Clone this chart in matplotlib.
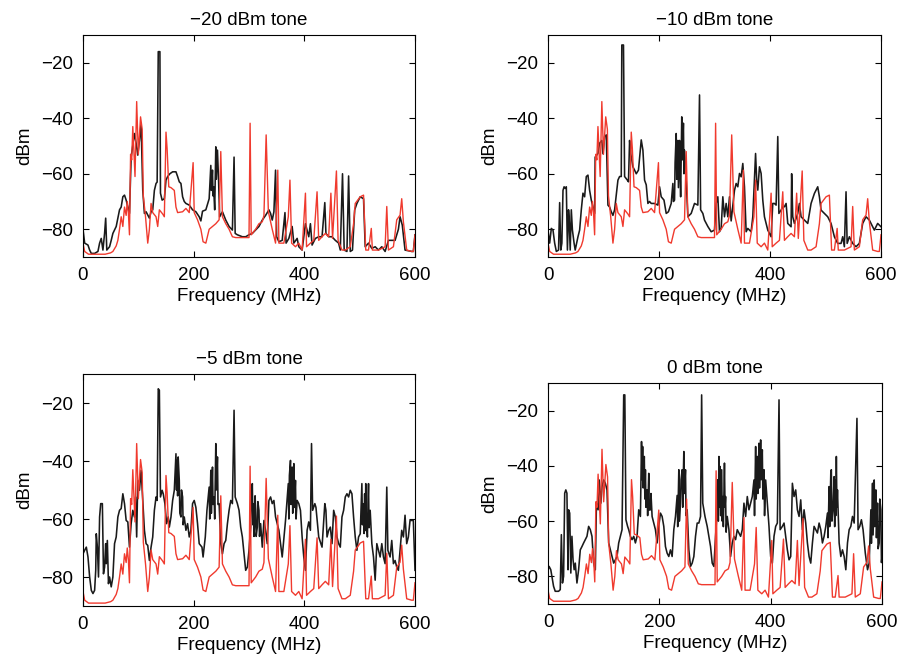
import matplotlib
matplotlib.use("Agg")
import matplotlib.pyplot as plt
import numpy as np

plt.rcParams['font.family'] = ['Liberation Sans', 'DejaVu Sans']

TITLES = ["\u221220 dBm tone", "\u221210 dBm tone", "\u22125 dBm tone", "0 dBm tone"]
X_TICKS = [0, 200, 400, 600]
Y_TICKS = [-20, -40, -60, -80]
X_LABEL = "Frequency (MHz)"
Y_LABEL = "dBm"

# reference (no tone) spectrum, shown in red in every panel: (MHz, dBm)
RED_TRACE = [(0,-85),(3,-88),(10,-89),(25,-89),(40,-89),(50,-88.5),(54,-88),(60,-86),(63,-84),(66,-80),
    (69,-75.5),(72,-79),(75,-72),(78,-75),(80,-70),(82,-74),(84,-82),(86,-53),(88,-55),(90,-43),(94,-61),
    (97,-34),(100,-53),(104,-39.5),(107,-44),(109,-68),(113,-75.5),(117,-85),(120,-80),(123,-70.7),
    (126,-74),(132,-75.5),(135,-79),(138,-73),(144,-74.5),(147,-75.5),(150,-45),(152,-51),(155,-64.7),
    (159,-65),(165,-66),(168,-72),(171,-74),(180,-73.7),(186,-72.5),(192,-74),(199,-56),(201,-74),
    (207,-76.6),(213,-80),(217,-84.5),(222,-85),(228,-80),(234,-79),(240,-78),(246,-76.6),(249,-52),
    (252,-75.5),(258,-78),(264,-80),(270,-82.7),(276,-83),(288,-83),(300,-83),(302,-41.8),(304,-82),
    (312,-80),(318,-78),(324,-77.3),(327,-75),(331,-46),(335,-73.7),(342,-80),(348,-85),(352,-58.7),
    (354,-85),(363,-85),(371,-75.5),(374,-62.3),(377,-85),(384,-86.3),(390,-85),(396,-87.5),(402,-67),
    (404,-86.3),(411,-85),(417,-84),(423,-66.5),(426,-84),(432,-82.7),(438,-81.5),(444,-82.7),(448,-67),
    (451,-83.3),(458,-59),(461,-84),(468,-87.5),(474,-87.5),(483,-86.3),(489,-78),(492,-70.7),(501,-68.3),
    (507,-67.7),(511,-87.5),(516,-87.5),(521,-79.7),(523,-87.5),(534,-87.5),(546,-86.3),(549,-71.8),
    (552,-87.5),(561,-86.3),(567,-76.6),(573,-74.9),(576,-69),(579,-77.3),(585,-87.5),(594,-88),
    (597,-88),(600,-82)]

# spectra with the tone applied, shown in black: (MHz, dBm)
BLACK_M20 = [(0,-80),(3,-85),(9,-85.7),(12,-87.5),(15,-88.7),(21,-88.7),(27,-88),(30,-85),(33,-83.3),
    (36,-87.5),(39,-81.5),(41,-76),(43,-87.5),(48,-86.3),(51,-84),(54,-81.5),(60,-79),(66,-73),(69,-72),
    (72,-68.3),(75,-67.7),(78,-69.5),(81,-72),(84,-74.3),(87,-54),(93,-45.5),(96,-49),(99,-53.3),(102,-48),
    (105,-42),(108,-66),(111,-74.3),(114,-73.7),(120,-76),(123,-73.7),(126,-73),(129,-66),(132,-63.5),
    (134,-63),(136,-16),(139,-16),(140,-67),(143,-69.5),(147,-69),(150,-62.3),(153,-61),(157,-60),
    (162,-59.3),(168,-59.3),(171,-61),(174,-62.9),(177,-63.5),(180,-68.3),(183,-70),(186,-70.7),
    (192,-71.3),(198,-73),(204,-73.7),(210,-75.5),(213,-77),(216,-73.5),(222,-73),(228,-69),(231,-57),
    (232,-66),(234,-58.7),(235,-68),(236,-64.7),(238,-73),(240,-50.3),(241,-62),(243,-51.5),(245,-62.3),
    (247,-75.5),(252,-73.7),
    (258,-76.7),(264,-79),(270,-80.3),(273,-54),(275,-81.5),(279,-82),(288,-82.7),(294,-82.7),(300,-82),
    (306,-81.5),(318,-79),(324,-76.7),(330,-75),(336,-73),(339,-74.3),(342,-76.7),(345,-73.7),(348,-58.7),
    (350,-82.7),(354,-84.5),(360,-84),(365,-74),(367,-85),(372,-83.3),(378,-79),(381,-85),(387,-83.3),
    (390,-86.3),(396,-87.5),(402,-78),(405,-80.3),(408,-82.7),(411,-78),(414,-85.7),(420,-83.3),
    (426,-82.7),(432,-82.7),(437,-70.4),(439,-81.5),(444,-82.7),(450,-82.7),(456,-84),(462,-85),
    (465,-87.5),(469,-60),(472,-87.5),(477,-88),(480,-60.8),(483,-88),(487,-87.5),(491,-73),(495,-70.7),
    (501,-68.3),(507,-69),(510,-86.3),(516,-85),(522,-86.9),(528,-86.3),(534,-87.5),(540,-86.3),
    (546,-88),(552,-84),(564,-84),(570,-80),(573,-75.5),(577,-78.5),(582,-87.5),(594,-88),(597,-88),(600,-82)]

BLACK_M10 = [(0,-80.3),(3,-85),(6,-79.7),(9,-80.3),(12,-85),(15,-88),(19,-87.5),(21,-70.4),(23,-87.5),
    (25,-85),(27,-66),(29,-64.7),(31,-65.3),(33,-64.7),(35,-87.5),(37,-73),(38,-75.5),(40,-87.5),(42,-73),
    (44,-80.3),(47,-85),(49,-87.5),(54,-82.7),(57,-80.3),(60,-73),(63,-67),(66,-68.3),(69,-61),(72,-60.5),
    (75,-66),(78,-69.5),(81,-72),(84,-74.3),(85,-54),(90,-52.7),(93,-49),(97,-48),(99,-52.8),(102,-46.6),
    (105,-46),(108,-71.3),(111,-72),(114,-73.7),(117,-75),(120,-73),(123,-67.7),(126,-62.3),(129,-61),
    (132,-61),(133,-13.6),(136,-13.6),(138,-61),(143,-62.3),(145,-62.9),(147,-48),(149,-52.7),(153,-57.5),
    (156,-58.7),(159,-60),(163,-58.7),(166,-52),(168,-47.8),(171,-51.5),(174,-62.3),(177,-64),(180,-70.7),
    (183,-70),(186,-70.7),(192,-70.7),(198,-71.3),(201,-64.7),(204,-68.3),(209,-69.5),(213,-74.3),
    (217,-73.7),(222,-70.7),(225,-63.5),(226,-70),(228,-69.5),(229,-56),(231,-45.5),(232,-62),(234,-48),
    (235,-65),(237,-48),(238,-60),(239,-68.3),(240,-55),(241,-39.5),(242,-55),(244,-41.8),(245,-60),
    (246,-51.5),(249,-62.3),(252,-75.5),(258,-74.3),(264,-70.7),(270,-71.3),
    (273,-31.6),(275,-73),(279,-74.3),(282,-76.7),(288,-79),(294,-80.9),(300,-80.3),(303,-70.7),
    (306,-68.3),(309,-80.9),(312,-79.7),(315,-68.3),(318,-75.5),(321,-70.7),(324,-75.5),(327,-68.3),
    (330,-77),(336,-66),(339,-63.5),(342,-64.7),(345,-59.9),(348,-61.1),(351,-56.3),(354,-64.7),
    (357,-80.9),(360,-79.7),(366,-80.9),(369,-75.5),(372,-62.3),(374,-52.7),(376,-62.3),(378,-65.9),
    (381,-57.5),(384,-59.9),(387,-69.5),(390,-75.5),(396,-80.3),(402,-82.7),(405,-70.7),(408,-70.7),
    (411,-71.3),(414,-46.6),(416,-74.3),(420,-73.1),(423,-71.9),(426,-71.9),(429,-70.7),(432,-77.9),
    (438,-79.1),(439,-60),(441,-75.5),(444,-77.9),(450,-74.3),(453,-70.7),(456,-75.5),(462,-76.7),
    (468,-77.9),(474,-70.7),(480,-67.1),(486,-64.7),(489,-68.3),(492,-73.1),(498,-74.3),(504,-75.5),
    (510,-77.9),(516,-82.7),(522,-85.1),(528,-85.1),(531,-82.7),(534,-86.3),(537,-66.5),(539,-85.1),
    (543,-82.7),(549,-85.1),(555,-86.3),(561,-85.1),(567,-77.9),(573,-75.5),(579,-76.7),(585,-79.1),
    (588,-80.3),(594,-77.9),(600,-79.1)]

BLACK_M5 = [(0,-72),(3,-70.8),(6,-69.7),(9,-73.1),(12,-80),(15,-84.6),(18,-85.7),(21,-84.6),(23,-77.7),
    (24,-65.1),(26,-69.7),(28,-80),(30,-59.3),(32,-54.7),(35,-54.7),(37,-78.9),(39,-76.6),(41,-68.5),
    (42,-75.4),(44,-67.4),(46,-82.3),(48,-80),(51,-83.4),(54,-80),(57,-68.5),(60,-66.2),(63,-59.3),
    (66,-57),(69,-56.4),(72,-51.3),(75,-54.7),(78,-60.5),(81,-61),(84,-69.7),(87,-61.6),(90,-57),
    (93,-59.3),(95,-52.4),(97,-66.2),(99,-46.7),(102,-50.1),(105,-43.2),(108,-53.6),(111,-63.9),
    (114,-68.5),(117,-69.1),(120,-74.3),(123,-69.7),(126,-66.2),(129,-57),(132,-52.4),(134,-53.6),
    (136,-15.1),(138,-15.6),(140,-52.4),(143,-50.1),(145,-51.3),(148,-54.7),(151,-61.6),(154,-59.3),
    (156,-62.8),(159,-59.3),(162,-53.6),(165,-50.1),(168,-37.5),(169,-50),(170,-39.8),(171,-52),
    (172,-38.6),(174,-46.7),(175,-58),(177,-59.3),(178,-50),(180,-52.4),(181,-62),(183,-59.3),(186,-63.9),
    (189,-61.6),(192,-66.2),(195,-63.9),(198,-54.7),
    (201,-53.6),(204,-56),(207,-61.6),(210,-68.5),(215,-69.7),(217,-73.1),(221,-66.2),(224,-57),
    (228,-49),(229,-60),(231,-43.2),(232,-58),(234,-42.1),(235,-55),(237,-52.4),(238,-60),(240,-34),
    (241,-50),(243,-38.6),(244,-55),(246,-54.7),(249,-68.5),(252,-72),
    (255,-68.5),(258,-67.4),(261,-61.6),(264,-57),(267,-53.6),(270,-54.7),(273,-22.5),(275,-52.4),
    (279,-54.7),(282,-57),(285,-62.8),(288,-66.2),(291,-72),(294,-77.7),(297,-76.6),(300,-70.8),
    (303,-62.8),(304,-55),(306,-47.8),(307,-62),(308,-54.7),(309,-66),(310,-61.6),(311,-52),(312,-57),
    (313,-66),(315,-62.8),(316,-54),(318,-57),(319,-66),(321,-61.6),
    (324,-69.7),(327,-60.5),(330,-63.9),(333,-68.5),(336,-53.6),(339,-52.4),(342,-54.7),(345,-53.6),
    (348,-59.3),(354,-63.9),(357,-68.5),(360,-73.1),(366,-60.5),(371,-47.8),(372,-60),(373,-45),
    (375,-39.8),(376,-55),(377,-44.4),(378,-42.1),(379,-58),(381,-40.9),(382,-56),(384,-46.7),(385,-60),
    (387,-53.6),(390,-54.7),(393,-57),(396,-66.2),(399,-73.1),
    (402,-77.7),(405,-63.9),(408,-61),(411,-63.9),(413,-34),(415,-57),(419,-54.7),(421,-56),(426,-66.2),
    (432,-69.7),(437,-54.7),(439,-57),(441,-66.2),(444,-63.9),(447,-62.8),(450,-68.5),(453,-57),
    (456,-59.3),(459,-66.2),(462,-68.5),(465,-69.7),(468,-59.3),(471,-57),(474,-52.4),(477,-51.3),
    (480,-52.4),(483,-50.1),(486,-51.3),(489,-59.3),(492,-66.2),(495,-70.8),(498,-66.2),(501,-65.1),
    (504,-47.8),(505,-62),(507,-54.7),(508,-65),(509,-51.3),(510,-64),(511,-47.8),(512,-60),(514,-66.2),
    (515,-55),(516,-47.8),(517,-63),(519,-57),(522,-68.5),
    (525,-73.1),(528,-81.1),(531,-68.5),(534,-70.8),(537,-73.1),(540,-68.5),(543,-73.1),(546,-75.4),
    (549,-49),(551,-70.8),(555,-73.1),(558,-67.4),(561,-75.4),(564,-74.3),(567,-76.6),(570,-77.7),
    (573,-70.8),(576,-63.9),(579,-66.2),(582,-58.7),(585,-68.5),(588,-66.2),(591,-60.5),(597,-60.5),
    (600,-77.7)]

BLACK_0 = [(0,-77.6),(2,-76.4),(5,-77.6),(7,-80),(10,-83.6),(13,-85.4),(19,-85.4),(22,-84.8),(24,-64.9),
    (26,-82.4),(28,-80),(30,-49.9),(32,-48.7),(34,-49.9),(36,-77.6),(37,-55.9),(39,-57.1),(41,-78.8),
    (43,-65.5),(45,-74),(47,-77.6),(49,-75.2),(52,-82.4),(55,-77.6),(58,-70.4),(61,-69.2),(64,-67.9),
    (67,-66.7),(70,-65.5),(73,-61.9),(76,-63.1),(79,-65.5),(82,-75.2),(85,-77.6),(87,-53.5),(90,-55.9),
    (92,-45.1),(95,-53.5),(97,-47.5),(100,-45.1),(103,-46.3),(106,-48.7),(109,-67.9),(112,-70.4),
    (115,-72.8),(118,-75.2),(121,-74),(124,-72.8),(127,-67.9),(130,-65.5),(133,-63.1),(136,-14.3),
    (138,-14.3),(140,-59.5),(143,-61.9),(145,-63.1),(148,-65.5),(151,-66.7),(154,-65.5),(157,-67.9),
    (160,-65.5),(163,-55.9),(166,-58.3),(168,-31.2),(169,-45),(170,-33),(171,-48),(173,-36.6),(174,-52),
    (175,-41.4),(176,-55),(178,-48.7),(179,-58),(181,-42.7),(182,-56),(184,-55.9),(185,-50),(187,-58.3),
    (190,-60.7),(193,-63.1),(196,-67.9),(199,-61.9),(202,-57.1),
    (205,-58.3),(208,-61.9),(211,-69.2),(214,-71.6),(217,-72.8),(220,-70.4),(223,-72.8),(226,-63.1),
    (229,-58.3),(232,-50.7),(233,-62),(235,-41.4),(236,-60),(238,-53.5),(239,-45),(241,-41.4),(242,-55),
    (244,-34.8),(245,-50),(247,-41.4),(248,-58),(250,-55.9),
    (253,-70.4),(256,-76.4),(259,-75.2),(262,-72.8),(265,-65.5),(268,-60.7),(271,-60.7),(274,-58.3),
    (276,-14.3),(278,-53.5),(282,-58.3),(286,-61.9),(289,-65.5),(292,-69.2),(295,-75.2),(298,-76.4),
    (301,-65.5),(304,-55.9),(305,-45),(306,-60),(307,-36.6),(308,-55),(309,-40.2),(310,-58),(312,-41.4),
    (313,-60),(314,-51.1),(315,-62),(317,-39),(318,-55),(319,-51.1),(320,-64),(322,-58.3),
    (325,-63.1),(328,-72.8),(331,-67.9),(334,-65.5),(337,-66.7),(340,-63.1),(343,-64.3),
    (346,-65.5),(349,-63.1),(352,-53.5),(355,-58.3),(358,-51.1),(361,-55.9),(364,-53.5),(367,-51.1),
    (370,-45.1),(371,-58),(373,-33),(374,-52),(376,-36.6),(377,-50),(379,-31.8),(380,-48),(382,-30.6),
    (383,-45),(385,-34.2),(386,-52),(388,-41.4),(389,-58),(391,-45.1),
    (394,-53.5),(397,-61.9),(400,-72.8),(403,-75.2),(406,-65.5),(409,-61.9),(412,-60.7),(415,-16.1),
    (417,-63.1),(421,-61.9),(424,-60.7),(427,-65.5),(430,-70.4),(433,-74),(436,-72.8),(439,-46.3),
    (442,-51.1),(445,-48.7),(448,-55.9),(451,-58.3),(454,-52.3),(457,-63.1),(460,-55.9),(463,-60.7),
    (466,-67.9),(469,-72.8),(472,-75.2),(475,-67.9),(478,-61.9),(481,-63.1),(484,-64.3),(487,-60.7),
    (490,-63.1),(493,-67.9),(496,-65.5),(499,-61.9),(502,-57.1),(503,-66),(505,-47.5),(506,-62),
    (508,-42.7),(509,-41.4),(510,-60),(512,-55.9),(514,-43.9),(515,-62),(516,-45.1),(517,-58),
    (518,-36.6),(519,-55),(520,-48.7),(523,-67.9),(526,-72.8),(529,-70.4),
    (532,-72.8),(535,-77.6),(538,-67.9),(541,-63.1),(544,-61.9),(547,-58.3),(550,-60.7),(555,-22.8),
    (557,-63.1),(560,-61.9),(563,-59.5),(566,-63.1),(570,-71.6),(574,-77.6),(577,-75.2),(580,-55.9),
    (581,-68),(583,-46.3),(584,-65),(586,-45.1),(587,-62),(589,-48.7),(590,-66),(592,-53.5),(593,-70),
    (595,-67.9),(596,-52),(598,-55.9),(599,-75),(600,-72.8)]

BLACK_TRACES = [BLACK_M20, BLACK_M10, BLACK_M5, BLACK_0]

W, H = 904, 663
fig = plt.figure(figsize=(W / 100, H / 100), dpi=100)

# axes boxes in pixels: left, top, right, bottom
boxes = [(83, 35, 415, 257), (548, 35, 881, 257), (83, 374, 415, 606), (548, 383, 882, 604)]

red_f, red_v = zip(*RED_TRACE)
for i, (box, trace, title) in enumerate(zip(boxes, BLACK_TRACES, TITLES)):
    l, t, r, b = box
    ax = fig.add_axes([l / W, 1 - b / H, (r - l) / W, (b - t) / H])
    bf, bv = zip(*trace)
    ax.plot(bf, bv, color='#1a1a1a', lw=1.15)
    ax.plot(red_f, red_v, color='#f03a2e', lw=1.0)
    ax.set_xlim(0, 600)
    ax.set_ylim(-90, -10)
    ax.set_xticks(X_TICKS)
    ax.set_yticks(Y_TICKS)
    ax.tick_params(direction='in', top=True, right=True, labelsize=13.5, length=4, width=0.8, pad=7)
    ax.set_xlabel(X_LABEL, fontsize=13.5, labelpad=3)
    ax.set_ylabel(Y_LABEL, fontsize=13.5, labelpad=6)
    ax.set_title(title, fontsize=13.5, pad=7)
    for s in ax.spines.values():
        s.set_linewidth(0.8)

fig.savefig("out.png", dpi=100)
